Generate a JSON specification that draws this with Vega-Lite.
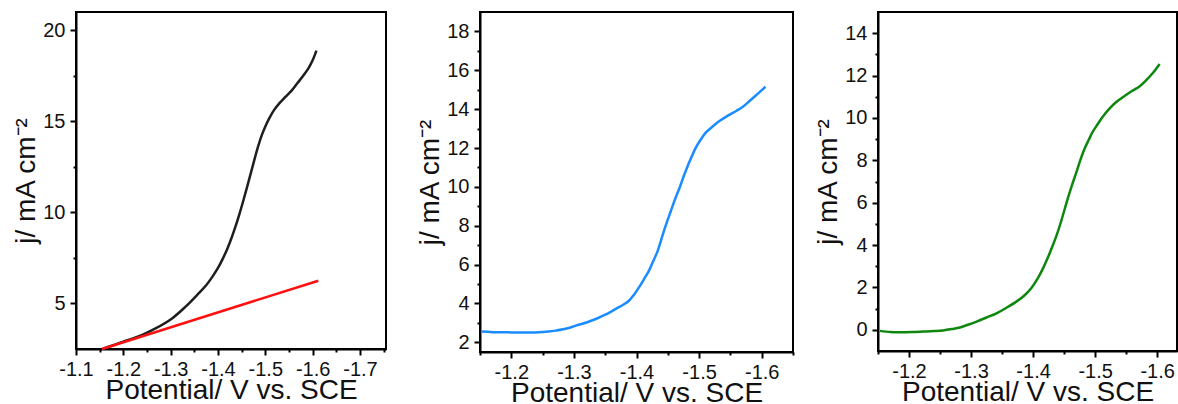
{
  "$schema": "https://vega.github.io/schema/vega-lite/v6.json",
  "background": "white",
  "padding": {"left": 11, "top": 11, "right": 0, "bottom": 0},
  "config": {
    "view": {"stroke": "#000000", "strokeWidth": 2},
    "axis": {
      "grid": false,
      "domainColor": "#000000",
      "domainWidth": 2,
      "tickColor": "#000000",
      "tickWidth": 2,
      "labelFont": "Liberation Sans",
      "labelFontSize": 20,
      "labelColor": "#111111",
      "labelFlush": false,
      "labelOverlap": false,
      "titleFont": "Liberation Sans",
      "titleFontSize": 28,
      "titleFontWeight": "normal",
      "titleColor": "#111111"
    },
    "axisX": {"labelPadding": 4, "titlePadding": -3},
    "axisY": {"labelPadding": 5, "titlePadding": 2},
    "line": {"strokeWidth": 2.5, "interpolate": "catmull-rom"}
  },
  "datasets": {
    "sweep_a": [
      {"E": -1.157, "j": 2.52}, {"E": -1.2, "j": 2.9}, {"E": -1.24, "j": 3.28},
      {"E": -1.268, "j": 3.63}, {"E": -1.303, "j": 4.18}, {"E": -1.331, "j": 4.81},
      {"E": -1.359, "j": 5.55}, {"E": -1.375, "j": 6.0}, {"E": -1.388, "j": 6.46},
      {"E": -1.4, "j": 6.95}, {"E": -1.41, "j": 7.45}, {"E": -1.42, "j": 8.02},
      {"E": -1.428, "j": 8.55}, {"E": -1.436, "j": 9.15}, {"E": -1.444, "j": 9.8},
      {"E": -1.452, "j": 10.5}, {"E": -1.46, "j": 11.25}, {"E": -1.468, "j": 12.02},
      {"E": -1.476, "j": 12.8}, {"E": -1.484, "j": 13.55}, {"E": -1.492, "j": 14.2},
      {"E": -1.5, "j": 14.72}, {"E": -1.508, "j": 15.15}, {"E": -1.518, "j": 15.6},
      {"E": -1.53, "j": 16.0}, {"E": -1.543, "j": 16.35}, {"E": -1.556, "j": 16.7},
      {"E": -1.568, "j": 17.1}, {"E": -1.58, "j": 17.5}, {"E": -1.592, "j": 17.95},
      {"E": -1.6, "j": 18.35}, {"E": -1.608, "j": 18.88}
    ],
    "sweep_a_fit": [
      {"E": -1.155, "j": 2.5}, {"E": -1.612, "j": 6.25}
    ],
    "sweep_b": [
      {"E": -1.153, "j": 2.55}, {"E": -1.17, "j": 2.52}, {"E": -1.2, "j": 2.51},
      {"E": -1.238, "j": 2.51}, {"E": -1.26, "j": 2.55}, {"E": -1.271, "j": 2.6},
      {"E": -1.29, "j": 2.72}, {"E": -1.303, "j": 2.86}, {"E": -1.32, "j": 3.02},
      {"E": -1.335, "j": 3.2}, {"E": -1.35, "j": 3.42}, {"E": -1.367, "j": 3.72},
      {"E": -1.378, "j": 3.92}, {"E": -1.388, "j": 4.14}, {"E": -1.396, "j": 4.45},
      {"E": -1.404, "j": 4.83}, {"E": -1.412, "j": 5.25}, {"E": -1.42, "j": 5.69},
      {"E": -1.427, "j": 6.2}, {"E": -1.434, "j": 6.72}, {"E": -1.444, "j": 7.75},
      {"E": -1.455, "j": 8.77}, {"E": -1.462, "j": 9.4}, {"E": -1.469, "j": 9.97},
      {"E": -1.476, "j": 10.6}, {"E": -1.482, "j": 11.09}, {"E": -1.495, "j": 12.03},
      {"E": -1.503, "j": 12.45}, {"E": -1.511, "j": 12.8}, {"E": -1.522, "j": 13.12},
      {"E": -1.533, "j": 13.4}, {"E": -1.546, "j": 13.67}, {"E": -1.56, "j": 13.92},
      {"E": -1.571, "j": 14.15}, {"E": -1.581, "j": 14.43}, {"E": -1.594, "j": 14.8},
      {"E": -1.606, "j": 15.15}
    ],
    "sweep_c": [
      {"E": -1.153, "j": -0.05}, {"E": -1.17, "j": -0.1}, {"E": -1.185, "j": -0.11},
      {"E": -1.205, "j": -0.1}, {"E": -1.223, "j": -0.08}, {"E": -1.24, "j": -0.06},
      {"E": -1.255, "j": -0.03}, {"E": -1.27, "j": 0.04}, {"E": -1.282, "j": 0.11},
      {"E": -1.295, "j": 0.24}, {"E": -1.309, "j": 0.39}, {"E": -1.325, "j": 0.58},
      {"E": -1.341, "j": 0.78}, {"E": -1.357, "j": 1.04}, {"E": -1.373, "j": 1.33},
      {"E": -1.386, "j": 1.62}, {"E": -1.397, "j": 1.96}, {"E": -1.407, "j": 2.4},
      {"E": -1.416, "j": 2.9}, {"E": -1.424, "j": 3.42}, {"E": -1.432, "j": 4.0},
      {"E": -1.439, "j": 4.55}, {"E": -1.445, "j": 5.1}, {"E": -1.456, "j": 6.2},
      {"E": -1.463, "j": 6.85}, {"E": -1.47, "j": 7.45}, {"E": -1.476, "j": 8.0},
      {"E": -1.483, "j": 8.55}, {"E": -1.49, "j": 8.98}, {"E": -1.496, "j": 9.34},
      {"E": -1.504, "j": 9.7}, {"E": -1.512, "j": 10.04}, {"E": -1.522, "j": 10.4},
      {"E": -1.534, "j": 10.75}, {"E": -1.548, "j": 11.05}, {"E": -1.561, "j": 11.3},
      {"E": -1.572, "j": 11.5}, {"E": -1.582, "j": 11.77}, {"E": -1.593, "j": 12.12},
      {"E": -1.604, "j": 12.55}
    ]
  },
  "spacing": 28,
  "hconcat": [
    {
      "width": 310,
      "height": 337,
      "encoding": {
        "x": {
          "field": "E", "type": "quantitative",
          "title": "Potential/ V vs. SCE",
          "scale": {"domain": [-1.1, -1.755], "nice": false, "zero": false},
          "axis": {
            "values": [-1.1, -1.15, -1.2, -1.25, -1.3, -1.35, -1.4, -1.45, -1.5, -1.55, -1.6, -1.65, -1.7, -1.75],
            "labelExpr": "abs(datum.value * 10 - round(datum.value * 10)) < 0.001 ? '-' + format(abs(datum.value), '.1f') : ''",
            "tickSize": {"condition": {"test": "abs(datum.value * 10 - round(datum.value * 10)) < 0.001", "value": 6}, "value": 3}
          }
        },
        "y": {
          "field": "j", "type": "quantitative",
          "title": "j/ mA cm⁻²",
          "scale": {"domain": [2.5, 21], "nice": false, "zero": false},
          "axis": {
            "values": [5, 7.5, 10, 12.5, 15, 17.5, 20],
            "labelExpr": "datum.value % 5 === 0 ? format(datum.value, 'd') : ''",
            "tickSize": {"condition": {"test": "datum.value % 5 === 0", "value": 6}, "value": 3}
          }
        }
      },
      "layer": [
        {"data": {"name": "sweep_a"}, "mark": {"type": "line", "color": "#1e1e1e"}},
        {"data": {"name": "sweep_a_fit"}, "mark": {"type": "line", "color": "#ff1010", "interpolate": "linear"}}
      ]
    },
    {
      "spacing": 18,
      "hconcat": [
        {
          "width": 313,
          "height": 340,
          "data": {"name": "sweep_b"},
          "mark": {"type": "line", "color": "#1a8cff"},
          "encoding": {
            "x": {
              "field": "E", "type": "quantitative",
              "title": "Potential/ V vs. SCE",
              "scale": {"domain": [-1.15, -1.65], "nice": false, "zero": false},
              "axis": {
                "values": [-1.15, -1.2, -1.25, -1.3, -1.35, -1.4, -1.45, -1.5, -1.55, -1.6, -1.65],
                "labelExpr": "abs(datum.value * 10 - round(datum.value * 10)) < 0.001 ? '-' + format(abs(datum.value), '.1f') : ''",
                "tickSize": {"condition": {"test": "abs(datum.value * 10 - round(datum.value * 10)) < 0.001", "value": 6}, "value": 3}
              }
            },
            "y": {
              "field": "j", "type": "quantitative",
              "title": "j/ mA cm⁻²",
              "scale": {"domain": [1.5, 19], "nice": false, "zero": false},
              "axis": {
                "values": [2, 3, 4, 5, 6, 7, 8, 9, 10, 11, 12, 13, 14, 15, 16, 17, 18],
                "labelExpr": "datum.value % 2 === 0 ? format(datum.value, 'd') : ''",
                "tickSize": {"condition": {"test": "datum.value % 2 === 0", "value": 6}, "value": 3}
              }
            }
          }
        },
        {
          "width": 299,
          "height": 339,
          "data": {"name": "sweep_c"},
          "mark": {"type": "line", "color": "#0e870e"},
          "encoding": {
            "x": {
              "field": "E", "type": "quantitative",
              "title": "Potential/ V vs. SCE",
              "scale": {"domain": [-1.15, -1.632], "nice": false, "zero": false},
              "axis": {
                "values": [-1.15, -1.2, -1.25, -1.3, -1.35, -1.4, -1.45, -1.5, -1.55, -1.6],
                "labelExpr": "abs(datum.value * 10 - round(datum.value * 10)) < 0.001 ? '-' + format(abs(datum.value), '.1f') : ''",
                "tickSize": {"condition": {"test": "abs(datum.value * 10 - round(datum.value * 10)) < 0.001", "value": 6}, "value": 3}
              }
            },
            "y": {
              "field": "j", "type": "quantitative",
              "title": "j/ mA cm⁻²",
              "scale": {"domain": [-1, 15], "nice": false, "zero": false},
              "axis": {
                "values": [0, 1, 2, 3, 4, 5, 6, 7, 8, 9, 10, 11, 12, 13, 14],
                "labelExpr": "datum.value % 2 === 0 ? format(datum.value, 'd') : ''",
                "tickSize": {"condition": {"test": "datum.value % 2 === 0", "value": 6}, "value": 3}
              }
            }
          }
        }
      ]
    }
  ]
}
